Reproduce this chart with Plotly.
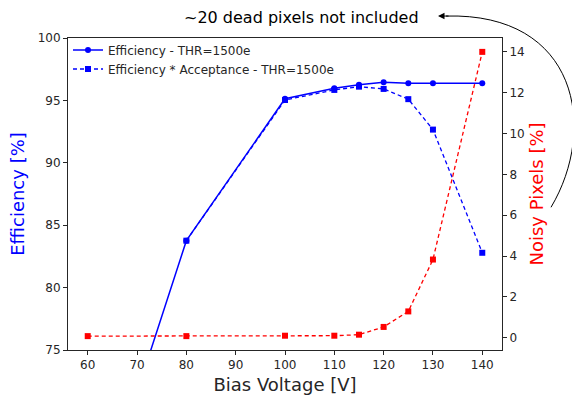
import plotly.graph_objects as go

# ---- data ----
voltage_eff = [70, 80, 100, 110, 115, 120, 125, 130, 140]
efficiency = [71.6, 83.76, 95.13, 95.97, 96.26, 96.45, 96.37, 96.37, 96.37]

voltage_ea = [80, 100, 110, 115, 120, 125, 130, 140]
eff_acc = [83.76, 95.03, 95.84, 96.10, 95.92, 95.10, 92.66, 82.79]

voltage_noisy = [60, 80, 100, 110, 115, 120, 125, 130, 140]
noisy = [0.08, 0.08, 0.10, 0.10, 0.15, 0.53, 1.29, 3.83, 14.0]

x_ticks = [60, 70, 80, 90, 100, 110, 120, 130, 140]
y_ticks = [75, 80, 85, 90, 95, 100]
y2_ticks = [0, 2, 4, 6, 8, 10, 12, 14]

W, H = 572, 403
ML, MR, MT, MB = 68, 70, 38, 48
FONT = "DejaVu Sans"
BLUE = "#0000ff"
RED = "#ff0000"
AX = "#262626"


def px2paper(px, py):
    pw = W - ML - MR
    ph = H - MT - MB
    return (px - ML) / pw, (H - MB - py) / ph


fig = go.Figure()

fig.add_trace(go.Scatter(
    x=voltage_eff, y=efficiency, mode="lines+markers",
    name="Efficiency - THR=1500e",
    line=dict(color=BLUE, width=1.5),
    marker=dict(color=BLUE, size=6, symbol="circle"),
))
fig.add_trace(go.Scatter(
    x=voltage_ea, y=eff_acc, mode="lines+markers",
    name="Efficiency * Acceptance - THR=1500e",
    line=dict(color=BLUE, width=1.3, dash="4px,3px"),
    marker=dict(color=BLUE, size=6, symbol="square"),
))
fig.add_trace(go.Scatter(
    x=voltage_noisy, y=noisy, mode="lines+markers", yaxis="y2",
    name="Noisy Pixels", showlegend=False,
    line=dict(color=RED, width=1.3, dash="4px,3px"),
    marker=dict(color=RED, size=6, symbol="square"),
))

# curved arrow from the right axis title to the note
p0 = px2paper(551, 210)
p1 = px2paper(598, 130)
p2 = px2paper(578, 12)
p3 = px2paper(446, 15.7)
path = (f"M {p0[0]},{p0[1]} C {p1[0]},{p1[1]} {p2[0]},{p2[1]} {p3[0]},{p3[1]}")
fig.add_shape(type="path", path=path, xref="paper", yref="paper",
              line=dict(color="black", width=1))
tip = px2paper(438, 15.7)
fig.add_annotation(x=tip[0], y=tip[1], xref="paper", yref="paper",
                   ax=12, ay=0, text="", showarrow=True,
                   arrowhead=2, arrowsize=1.3, arrowwidth=1, arrowcolor="black")

tx, ty = px2paper(301.5, 17)
fig.add_annotation(x=tx, y=ty, xref="paper", yref="paper",
                   text="~20 dead pixels not included", showarrow=False,
                   font=dict(family=FONT, size=16, color="black"),
                   xanchor="center", yanchor="middle")

fig.update_layout(
    width=W, height=H,
    margin=dict(l=ML, r=MR, t=MT, b=MB),
    paper_bgcolor="white", plot_bgcolor="white",
    font=dict(family=FONT, size=12, color=AX),
    xaxis=dict(
        range=[56, 144], tickvals=x_ticks, ticks="outside", ticklen=4,
        tickcolor=AX, showline=True, linecolor=AX, linewidth=1, mirror=True,
        showgrid=False, zeroline=False,
        title=dict(text="Bias Voltage [V]", font=dict(size=18, color=AX), standoff=6),
    ),
    yaxis=dict(
        range=[75, 100], tickvals=y_ticks, ticks="outside", ticklen=4,
        tickcolor=AX, showline=True, linecolor=AX, linewidth=1,
        showgrid=False, zeroline=False,
        title=dict(text="Efficiency [%]", font=dict(size=18, color=BLUE), standoff=8),
    ),
    yaxis2=dict(
        range=[-0.6, 14.68], tickvals=y2_ticks, ticks="outside", ticklen=4,
        tickcolor=AX, showline=True, linecolor=AX, linewidth=1,
        overlaying="y", side="right", showgrid=False, zeroline=False,
        title=dict(text="Noisy Pixels [%]", font=dict(size=18, color=RED), standoff=6),
    ),
    legend=dict(
        x=0.0, y=1.008, xanchor="left", yanchor="top",
        bgcolor="rgba(255,255,255,0)", borderwidth=0,
        font=dict(family=FONT, size=12, color=AX),
        tracegroupgap=0, itemwidth=30,
    ),
    showlegend=True,
)

fig.write_html("out.html")
